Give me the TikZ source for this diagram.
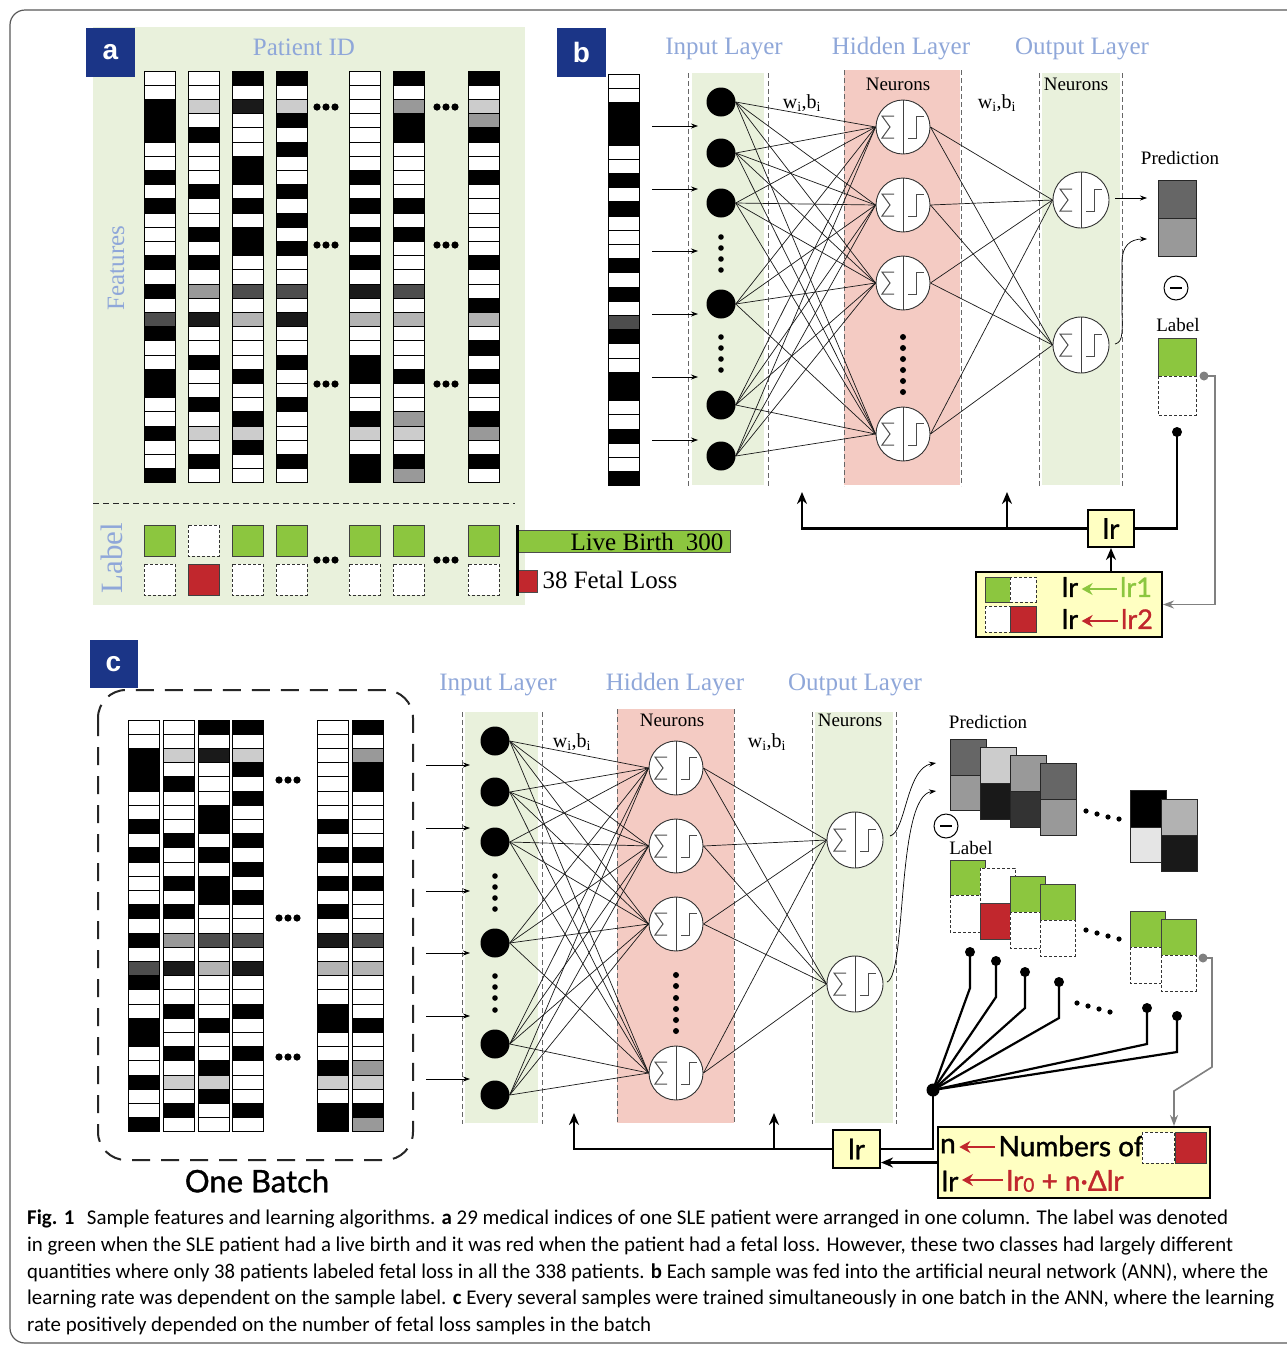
\documentclass[tikz,border=0pt]{standalone}
\usepackage{fontspec}
\usepackage{graphicx}
\setmainfont{Liberation Serif}
\newfontfamily\dinf[FakeBold=1.2]{Lato}
\newfontfamily\capf{Carlito}
\newfontfamily\letf{Liberation Sans}
\usetikzlibrary{arrows.meta}
\definecolor{pgreen}{HTML}{E9F1DC}
\definecolor{ppink}{HTML}{F4CBC3}
\definecolor{lblue}{HTML}{1B3587}
\definecolor{tblue}{HTML}{8FA7D9}
\definecolor{lgreen}{HTML}{8CC63F}
\definecolor{lred}{HTML}{C1272D}
\definecolor{lyel}{HTML}{FFFFC2}
\definecolor{colW}{HTML}{FFFFFF}
\definecolor{colB}{HTML}{000000}
\definecolor{colL}{HTML}{CCCCCC}
\definecolor{colG}{HTML}{999999}
\definecolor{colM}{HTML}{B3B3B3}
\definecolor{colD}{HTML}{4D4D4D}
\definecolor{colV}{HTML}{1A1A1A}
\newcommand\fsz[1]{\fontsize{#1pt}{#1pt}\selectfont}
\newcommand\featcol[3]{%
  \foreach \cellc [count=\kk from 0] in #3 {\fill[col\cellc] (#1,{#2+\kk*14.2-0.3}) rectangle ++(31,14.8);}
  \foreach \cellc [count=\kk from 0] in #3 {\draw[black, line width=0.7] (#1,{#2+\kk*14.2}) rectangle ++(31,14.2);}
}
\def\colsA{W,W,B,B,B,W,W,B,W,B,W,W,W,B,W,B,W,D,B,W,W,B,B,W,W,B,W,W,B}
\def\colsB{W,W,L,W,B,W,W,W,B,W,W,B,W,B,W,G,W,V,W,W,B,W,W,B,W,L,W,B,W}
\def\colsC{B,W,V,W,W,W,B,B,W,B,W,B,B,W,W,D,W,M,W,W,W,B,W,W,B,L,B,W,W}
\def\colsD{B,W,L,B,W,B,W,W,B,W,B,W,B,W,W,D,W,V,W,W,B,W,W,B,W,W,W,B,W}
\def\colsE{W,W,W,W,W,W,W,B,W,B,W,B,W,B,W,V,W,M,W,W,B,B,W,W,B,L,W,B,B}
\def\colsF{B,W,G,B,B,W,W,W,W,B,W,B,W,W,W,D,W,M,W,W,W,B,W,W,G,L,W,B,G}
\def\colsG{B,W,L,G,B,W,W,B,W,W,W,W,W,B,W,W,B,M,W,B,W,B,W,W,B,G,W,B,W}
\tikzset{
  conn/.style={line width=0.7, black!90},
  lay/.style={dash pattern=on 5pt off 3pt, black!60, line width=1},
  fb/.style={line width=2.2, black},
  fbar/.style={fb, -{Stealth[length=12pt,width=10pt]}},
  inarr/.style={line width=0.7, -{Stealth[length=7pt,width=5pt]}},
  gl/.style={line width=1.6, black!50},
  glarr/.style={gl, -{Stealth[length=11pt,width=8pt]}},
  inode/.style={circle, fill=black, minimum size=29pt, inner sep=0pt},
  neuron/.style={circle, draw=black!80, fill=white, line width=0.9, minimum size=#1, inner sep=0pt,
    path picture={
      \path (path picture bounding box.center) coordinate (npc);
      \draw[black!75, line width=0.8] ([yshift=-30pt]npc) -- ([yshift=30pt]npc);
      \draw[black!70, line width=1] ([shift={(-9,-11)}]npc) -- ([shift={(-21,-11)}]npc) -- ([shift={(-13,0)}]npc) -- ([shift={(-21,11)}]npc) -- ([shift={(-9,11)}]npc);
      \draw[black!70, line width=1] ([shift={(5,11)}]npc) -- ([shift={(13,11)}]npc) -- ([shift={(13,-11)}]npc) -- ([shift={(21,-11)}]npc);
    }},
  neuron/.default=54pt,
  ybox/.style={draw=black, line width=2, fill=lyel, inner sep=0pt},
  lettbox/.style={fill=lblue, minimum size=49pt, inner sep=0pt, text=white, font=\letf\bfseries\fsz{28}},
  title/.style={text=tblue, font=\fsz{25}},
  small/.style={font=\fsz{19}},
  gsq/.style={fill=lgreen, draw=black!75, line width=0.8},
  rsq/.style={fill=lred, draw=black!75, line width=0.8},
  dsq/.style={fill=white, draw=black!80, dash pattern=on 3pt off 2pt, line width=0.9},
  capl/.style={anchor=west, inner sep=0pt, font=\capf\fsz{21}},
  dinl/.style={font=\dinf\fsz{27}},
  redarr/.style={line width=2.6, lred, -{Stealth[length=11pt,width=12pt]}},
  grnarr/.style={line width=2.6, lgreen, -{Stealth[length=11pt,width=12pt]}},
}
\begin{document}
\begin{tikzpicture}[x=1pt,y=-1pt]
\useasboundingbox (0,0) rectangle (1287,1345);
\fill[white] (0,0) rectangle (1287,1345);
% outer frame
\draw[black!65, line width=1.2, rounded corners=15] (10,10) rectangle (1340,1343);

% ================= Panel a =================
\fill[pgreen] (93,27) rectangle (525,605);
\node[lettbox] (la) at (110.5,52.5) {a};
\node[title] (pid) at (304,47) {Patient ID};
\node[title, rotate=90] (feat) at (116,268) {Features};
\node[title, font=\fsz{31}, rotate=90] (labtxt) at (112,558) {Label};
\featcol{144}{71}{\colsA}
\featcol{188}{71}{\colsB}
\featcol{232}{71}{\colsC}
\featcol{276}{71}{\colsD}
\featcol{349}{71}{\colsE}
\featcol{393}{71}{\colsF}
\featcol{468}{71}{\colsG}
\foreach \yy in {107,245,384} \foreach \xx in {326,446} \foreach \dd in {-9,0,9} \fill (\xx+\dd,\yy) circle (3.6);
\draw[black!85, line width=1, dash pattern=on 6pt off 4pt] (93,503) -- (515,503);
\foreach \xx [count=\kk] in {144,188,232,276,349,393,468} {
  \ifnum\kk=2
    \draw[dsq] (\xx,525) rectangle ++(31,31);
    \draw[rsq] (\xx,564) rectangle ++(31,31);
  \else
    \draw[gsq] (\xx,525) rectangle ++(31,31);
    \draw[dsq] (\xx,564) rectangle ++(31,31);
  \fi
}
\foreach \xx in {326,446} \foreach \dd in {-9,0,9} \fill (\xx+\dd,560) circle (3.6);
\node[rectangle, fill=lgreen, draw=black!70, line width=0.8, minimum width=213pt, minimum height=22pt, anchor=north west] (lbbar) at (517,530) {};
\node[font=\fsz{25}, anchor=east] (lbtxt) at (727,542) {Live Birth\hspace{12pt}300};
\node[rectangle, fill=lred, draw=black!70, line width=0.8, minimum width=20pt, minimum height=22pt, anchor=north west] (flbar) at (517,570) {};
\node[font=\fsz{25}, anchor=west] (fltxt) at (539,580) {38 Fetal Loss};
\draw[line width=3] (517,525) -- (517,596);

% ================= Panel b =================
\node[lettbox] (lb) at (581.5,52.5) {b};
\node[title] (bt1) at (724,49) {Input Layer};
\node[title] (bt2) at (901,49) {Hidden Layer};
\node[title] (bt3) at (1082,49) {Output Layer};
\featcol{608}{74}{\colsA}
\fill[pgreen] (692,73) rectangle (764,485);
\fill[ppink] (844,70) rectangle (960,485);
\fill[pgreen] (1042,73) rectangle (1120,485);
\foreach \xx/\yy in {688/73,768/73,844/70,961/70,1039/73,1122/73} \draw[lay] (\xx,\yy) -- (\xx,486);
\node[small] (bn1) at (898,84) {Neurons};
\node[small] (bn2) at (1076,84) {Neurons};
\node[font=\fsz{20}] (bw1) at (802,103) {w\textsubscript{i},b\textsubscript{i}};
\node[font=\fsz{20}] (bw2) at (997,103) {w\textsubscript{i},b\textsubscript{i}};
\foreach \yy [count=\kk] in {126,189,251,314,377,440} {
  \coordinate (bas\kk) at (652,\yy); \coordinate (bae\kk) at (698,\yy);
  \draw[inarr] (bas\kk) -- (bae\kk);
}
\foreach \yy [count=\kk] in {102,153,203,304,405,456} \node[inode] (bi\kk) at (721,\yy) {};
\foreach \yy in {237,248,259,270,337,348,359,370} \fill (721,\yy) circle (2.8);
\foreach \yy [count=\kk] in {127,205,283,434} \node[neuron] (bh\kk) at (903,\yy) {};
\foreach \yy in {337,348,359,370,381,392} \fill (903,\yy) circle (3);
\node[neuron=56pt] (bo1) at (1081,200) {};
\node[neuron=56pt] (bo2) at (1081,345) {};
\foreach \a in {1,...,6} \foreach \b in {1,...,4} \draw[conn] (bi\a.east) -- (bh\b.west);
\foreach \a in {1,...,4} \foreach \b in {1,2} \draw[conn] (bh\a.east) -- (bo\b.west);
% prediction / label
\node[small] (bpred) at (1180,158) {Prediction};
\filldraw[fill=black!60, draw=black!85, line width=0.9] (1158,180) rectangle (1196,218);
\filldraw[fill=black!40, draw=black!85, line width=0.9] (1158,218) rectangle (1196,256);
\coordinate (bps1) at (1115,198); \coordinate (bpe1) at (1147,198);
\coordinate (bps2) at (1115,344); \coordinate (bpe2) at (1147,239);
\draw[inarr] (bps1) -- (bpe1);
\draw[inarr] (bps2) .. controls (1124,342) and (1122,330) .. (1122,305) -- (1122,262) .. controls (1122,246) and (1130,239) .. (bpe2);
\node[circle, draw, line width=1, minimum size=24pt, inner sep=0pt] (bminus) at (1176,288) {};
\draw[line width=2.6] ([xshift=-6pt]bminus.center) -- ([xshift=6pt]bminus.center);
\node[small] (blab) at (1178,325) {Label};
\draw[gsq] (1158,338) rectangle (1196,376);
\draw[dsq] (1158,376) rectangle (1196,415);
\node[circle, fill=black!50, minimum size=9pt, inner sep=0pt] (bgdot) at (1204,376) {};
\node[circle, fill=black, minimum size=10pt, inner sep=0pt] (bdot) at (1177,432) {};
\node[ybox, minimum width=46pt, minimum height=37pt, font=\dinf\fsz{28}] (lrb) at (1111,528.5) {lr};
\node[ybox, minimum width=186pt, minimum height=65pt] (ruleb) at (1069,604.5) {};
\coordinate (bup1) at (802,492); \coordinate (bj2) at (1007,528.5); \coordinate (bup2) at (1007,492);
\coordinate (bg1) at (1215,500);
\draw[fb] (bdot.center) |- (lrb.east);
\draw[fbar] (lrb.west) -| (bup1);
\draw[fbar] (bj2) -- (bup2);
\draw[fbar] (lrb.south |- ruleb.north) -- (lrb.south);
\draw[glarr] (bgdot.center) -| (bg1) |- (ruleb.east);
\draw[gsq] (985,577) rectangle (1010,602);
\draw[dsq] (1010,577) rectangle (1036,602);
\draw[dsq] (985,606) rectangle (1010,632);
\draw[rsq] (1010,606) rectangle (1036,632);
\node[dinl] (rb1l) at (1070,587) {lr};
\node[dinl, text=lgreen] (rb1r) at (1136,587) {lr1};
\node[dinl] (rb2l) at (1070,619) {lr};
\node[dinl, text=lred] (rb2r) at (1137,619) {lr2};
\draw[grnarr] ([yshift=-2pt]rb1r.west) -- ([yshift=-2pt]rb1l.east);
\draw[redarr] ([yshift=-2pt]rb2r.west) -- ([yshift=-2pt]rb2l.east);

% ================= Panel c =================
\node[lettbox, minimum size=48pt] (lc) at (113.5,664) {c};
\draw[black!85, line width=2, dash pattern=on 18pt off 11pt, rounded corners=28] (98,690) rectangle (413,1160);
\node[font=\dinf\fsz{31}] (onebatch) at (257,1181) {One Batch};
\featcol{128}{720}{\colsA}
\featcol{163}{720}{\colsB}
\featcol{198}{720}{\colsC}
\featcol{232}{720}{\colsD}
\featcol{317}{720}{\colsE}
\featcol{352}{720}{\colsF}
\foreach \yy in {780,918,1057} \foreach \dd in {-9,0,9} \fill (288+\dd,\yy) circle (3.6);
\node[title] (ct1) at (498,685) {Input Layer};
\node[title] (ct2) at (675,685) {Hidden Layer};
\node[title] (ct3) at (855,685) {Output Layer};
\fill[pgreen] (465,712) rectangle (538,1123);
\fill[ppink] (617,709) rectangle (734,1123);
\fill[pgreen] (815,712) rectangle (893,1123);
\foreach \xx/\yy in {462/712,542/712,617/709,734/709,812/712,896/712} \draw[lay] (\xx,\yy) -- (\xx,1124);
\node[small] (cn1) at (672,720) {Neurons};
\node[small] (cn2) at (850,720) {Neurons};
\node[font=\fsz{20}] (cw1) at (572,742) {w\textsubscript{i},b\textsubscript{i}};
\node[font=\fsz{20}] (cw2) at (767,742) {w\textsubscript{i},b\textsubscript{i}};
\foreach \yy [count=\kk] in {765,828,891,953,1016,1079} {
  \coordinate (cas\kk) at (426,\yy); \coordinate (cae\kk) at (470,\yy);
  \draw[inarr] (cas\kk) -- (cae\kk);
}
\foreach \yy [count=\kk] in {741,792,842,943,1044,1095} \node[inode] (ci\kk) at (495,\yy) {};
\foreach \yy in {876,887,898,909,976,987,998,1010} \fill (495,\yy) circle (2.8);
\foreach \yy [count=\kk] in {768,846,924,1073} \node[neuron] (ch\kk) at (676,\yy) {};
\foreach \yy in {975,986,998,1009,1020,1031} \fill (676,\yy) circle (3);
\node[neuron=56pt] (co1) at (855,840) {};
\node[neuron=56pt] (co2) at (855,984) {};
\foreach \a in {1,...,6} \foreach \b in {1,...,4} \draw[conn] (ci\a.east) -- (ch\b.west);
\foreach \a in {1,...,4} \foreach \b in {1,2} \draw[conn] (ch\a.east) -- (co\b.west);
\coordinate (cps1) at (890,836); \coordinate (cpe1) at (936,763);
\coordinate (cps2) at (887,982); \coordinate (cpe2) at (936,791);
\draw[inarr] (cps1) .. controls (906,832) and (906,768) .. (cpe1);
\draw[inarr] (cps2) .. controls (907,975) and (896,796) .. (cpe2);
\node[small] (cpred) at (988,722) {Prediction};
\foreach \xx/\ya/\yb/\yc/\ca/\cb in {950/739/775/810/60/40, 980/747/783/819/20/90, 1010/755/791/827/40/80, 1040/763/799/835/60/40, 1130/790/827/862/100/10, 1161/799/835/871/30/90} {
  \filldraw[fill=black!\ca, draw=black!85, line width=0.9] (\xx,\ya) rectangle (\xx+36,\yb);
  \filldraw[fill=black!\cb, draw=black!85, line width=0.9] (\xx,\yb) rectangle (\xx+36,\yc);
}
\foreach \xx/\yy in {1086/811,1097/814,1108/817,1119/819, 1086/930,1097/933,1108/936,1119/939, 1077/1003,1088/1006,1099/1009,1110/1012} \fill (\xx,\yy) circle (2.6);
\node[circle, draw, line width=1, minimum size=24pt, inner sep=0pt] (cminus) at (946,826) {};
\draw[line width=2.6] ([xshift=-6pt]cminus.center) -- ([xshift=6pt]cminus.center);
\node[small] (clab) at (971,848) {Label};
\foreach \xx/\ya/\yb/\yc [count=\kk] in {950/860/895/932, 980/868/903/939, 1010/876/912/948, 1040/884/920/956, 1130/911/947/983, 1161/919/955/991} {
  \ifnum\kk=2
    \draw[dsq] (\xx,\ya) rectangle (\xx+35,\yb);
    \draw[rsq] (\xx,\yb) rectangle (\xx+35,\yc);
  \else
    \draw[gsq] (\xx,\ya) rectangle (\xx+35,\yb);
    \draw[dsq] (\xx,\yb) rectangle (\xx+35,\yc);
  \fi
}
% hub connectors
\node[circle, fill=black, minimum size=13pt, inner sep=0pt] (hub) at (933,1090) {};
\foreach \xx/\yy [count=\kk] in {970/952, 996/961, 1025/972, 1059/982, 1147/1008, 1177/1016} {
  \node[circle, fill=black, minimum size=10pt, inner sep=0pt] (cd\kk) at (\xx,\yy) {};
  \draw[fb] (cd\kk.center) -- ++(0,36) -- (hub.center);
}
\node[circle, fill=black!50, minimum size=9pt, inner sep=0pt] (cgdot) at (1203,958) {};
\node[ybox, minimum width=47pt, minimum height=38pt, font=\dinf\fsz{28}] (lrc) at (856.5,1149) {lr};
\node[ybox, minimum width=272pt, minimum height=71pt] (rulec) at (1074,1162.5) {};
\coordinate (cup1) at (574,1113); \coordinate (cj2) at (774,1149); \coordinate (cup2) at (774,1113);
\coordinate (cg1) at (1212,1067); \coordinate (cg2) at (1174,1091);
\draw[fb] (hub.center) |- (lrc.east);
\draw[fbar] (lrc.west) -| (cup1);
\draw[fbar] (cj2) -- (cup2);
\draw[fbar] (rulec.west) -- (lrc.east |- rulec.west);
\draw[glarr] (cgdot.center) -| (cg1) -- (cg2) -- (cg2 |- rulec.north);
\node[font=\dinf\fsz{28}] (cn) at (948,1146) {n};
\node[font=\dinf\fsz{28}, anchor=west] (cnof) at (995,1146) {Numbers of};
\draw[dsq] (1142,1132) rectangle (1174,1163);
\draw[rsq] (1175,1132) rectangle (1206,1163);
\node[font=\dinf\fsz{28}] (clr) at (950,1181) {lr};
\node[font=\dinf\fsz{28}, text=lred, anchor=west] (cform) at (1003,1181) {lr{\fsz{19}\raisebox{-1pt}{0}} + n·Δlr};
\draw[redarr] ([yshift=-1pt]cnof.west) -- ([yshift=-1pt]cn.east);
\draw[redarr] ([yshift=1pt]cform.west) -- ([yshift=1pt]clr.east);

% ================= Caption =================
\node[capl] (cap1) at (27,1219) {\resizebox{1201pt}{\height}{\textbf{Fig. 1}\hspace{0.6em}Sample features and learning algorithms. \textbf{a} 29 medical indices of one SLE patient were arranged in one column. The label was denoted}};
\node[capl] (cap2) at (27,1246) {\resizebox{1206pt}{\height}{in green when the SLE patient had a live birth and it was red when the patient had a fetal loss. However, these two classes had largely different}};
\node[capl] (cap3) at (27,1272) {\resizebox{1241pt}{\height}{quantities where only 38 patients labeled fetal loss in all the 338 patients. \textbf{b} Each sample was fed into the artificial neural network (ANN), where the}};
\node[capl] (cap4) at (27,1299) {\resizebox{1247pt}{\height}{learning rate was dependent on the sample label. \textbf{c} Every several samples were trained simultaneously in one batch in the ANN, where the learning}};
\node[capl] (cap5) at (27,1326) {\resizebox{624pt}{\height}{rate positively depended on the number of fetal loss samples in the batch}};
\end{tikzpicture}
\end{document}
